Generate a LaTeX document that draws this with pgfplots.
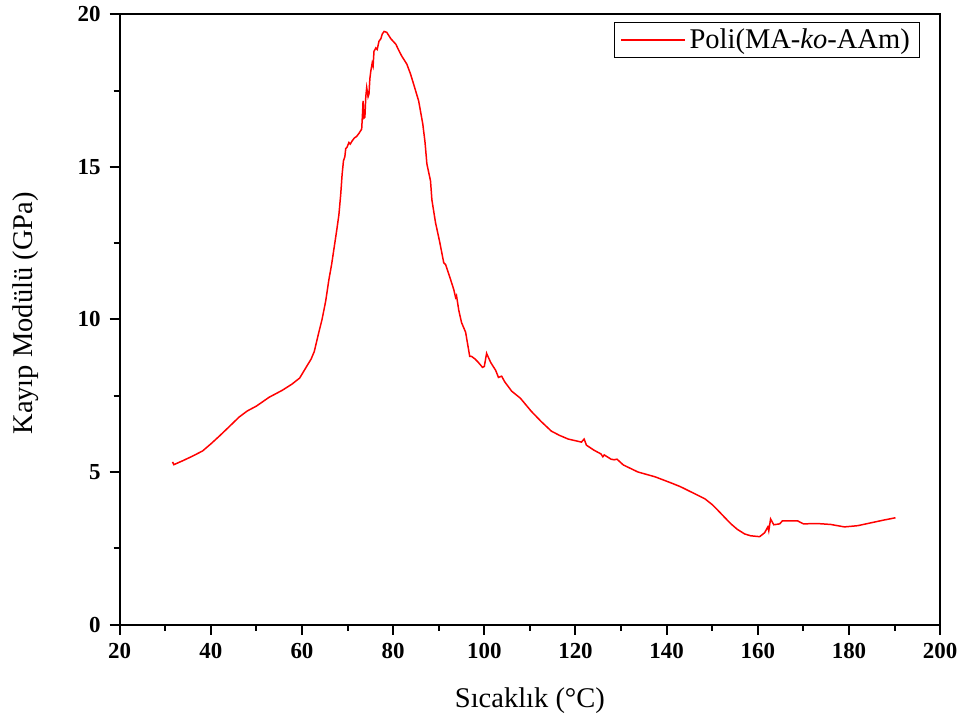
\documentclass[border=0pt]{standalone}
\usepackage{fontspec}
\setmainfont{Liberation Serif}
\usepackage{pgfplots}
\pgfplotsset{compat=1.18}
\begin{document}
\begin{tikzpicture}
\begin{axis}[
  name=ax,
  scale only axis,
  width=411.5pt, height=306pt,
  xmin=20, xmax=200, ymin=0, ymax=20,
  xtick={20,40,...,200}, ytick={0,5,10,15,20},
  minor x tick num=1, minor y tick num=1,
  xtick pos=left, ytick pos=left,
  tick align=outside,
  major tick length=5pt, minor tick length=3pt,
  axis line style={line width=1pt},
  every tick/.style={black, line width=1pt},
  /pgf/number format/assume math mode=true,
  ticklabel style={font=\fontsize{11.5}{13}\selectfont\bfseries},
  xticklabel style={yshift=-1pt},
  yticklabel style={xshift=-1pt},
  xlabel={Sıcaklık (°C)},
  ylabel={Kayıp Modülü (GPa)},
  every axis x label/.style={at={(axis description cs:0.5,-0.124)},anchor=center,font=\fontsize{14.3}{16}\selectfont},
  every axis y label/.style={at={(axis description cs:-0.114,0.51)},rotate=90,anchor=center,font=\fontsize{14.3}{16}\selectfont},
  legend style={at={(axis description cs:1,1)},anchor=north east,xshift=-10pt,yshift=-4pt,
    draw=black, line width=0.5pt, font=\fontsize{14.3}{16}\selectfont,
    inner xsep=3pt, inner ysep=1pt},
  legend cell align=left,
  legend image code/.code={\draw[#1] (0pt,0pt) -- (32pt,0pt);},
]
\addplot[red, line width=0.75pt] coordinates {
(31.6,5.33) (31.9,5.24) (34.0,5.38) (36.0,5.52) (38.2,5.69) (40.0,5.92)
(41.9,6.18) (44.0,6.48) (46.2,6.80) (48.0,7.00) (50.0,7.16) (52.8,7.45)
(55.7,7.68) (57.8,7.88) (59.5,8.08) (60.9,8.43) (62.0,8.70) (62.7,8.95)
(63.7,9.58) (64.4,10.0) (65.2,10.6) (65.9,11.3) (66.5,11.8) (67.0,12.3)
(67.6,12.9) (68.1,13.43) (68.5,14.1) (68.8,14.74) (69.1,15.2) (69.4,15.33)
(69.6,15.6) (69.9,15.65) (70.3,15.8) (70.6,15.75) (71.0,15.85) (71.5,15.95)
(72.0,16.0) (72.5,16.1) (73.1,16.24) (73.3,16.8) (73.4,17.16) (73.6,16.6)
(73.8,16.63) (74.0,17.3) (74.2,17.6) (74.5,17.3) (74.7,17.39) (74.9,17.9)
(75.1,18.14) (75.4,18.4) (75.6,18.3) (75.8,18.79) (76.2,18.9) (76.5,18.85)
(76.9,19.12) (77.3,19.2) (77.6,19.35) (78.0,19.44) (78.6,19.41) (79.5,19.2)
(80.6,19.02) (81.3,18.8) (81.9,18.63) (83.0,18.37) (83.8,18.05) (84.5,17.71)
(85.6,17.16) (86.5,16.41) (87.0,15.8) (87.4,15.10) (88.2,14.54) (88.5,13.92)
(89.3,13.17) (90.2,12.55) (91.1,11.86) (91.5,11.80) (92.4,11.4) (93.3,10.98)
(93.7,10.72) (93.9,10.78) (94.4,10.3) (95.0,9.90) (95.9,9.58) (96.8,8.79)
(97.2,8.79) (98.0,8.70) (98.7,8.59) (99.6,8.43) (100.0,8.46) (100.5,8.89)
(101.0,8.72) (101.4,8.59) (102.5,8.33) (103.1,8.10) (103.8,8.14) (104.5,7.95)
(106.0,7.65) (107.9,7.42) (110.3,6.99) (112.5,6.65) (114.7,6.34) (116.5,6.20)
(118.4,6.08) (121.3,5.98) (121.9,6.08) (122.4,5.88) (124.0,5.72) (125.6,5.59)
(126.0,5.50) (126.3,5.56) (127.8,5.42) (128.5,5.40) (129.1,5.42) (130.5,5.23)
(133.7,5.00) (137.5,4.84) (141.0,4.64) (143.0,4.52) (145.3,4.35) (148.4,4.12)
(150.0,3.93) (151.2,3.75) (152.8,3.50) (154.1,3.30) (155.5,3.12) (157.1,2.97)
(158.4,2.91) (160.4,2.88) (161.5,3.01) (162.0,3.15) (162.2,3.20) (162.4,3.07)
(162.8,3.46) (163.5,3.27) (164.8,3.30) (165.4,3.40) (168.7,3.40) (170.0,3.30)
(173.1,3.31) (176.0,3.28) (179.0,3.20) (181.9,3.24) (184.7,3.33) (187.5,3.42)
(190.2,3.50)
};
\addlegendentry{Poli(MA-\textit{ko}-AAm)}
\end{axis}
\path ([shift={(-60pt,-48pt)}]ax.south west) rectangle ([shift={(10.5pt,7pt)}]ax.north east);
\end{tikzpicture}
\end{document}
